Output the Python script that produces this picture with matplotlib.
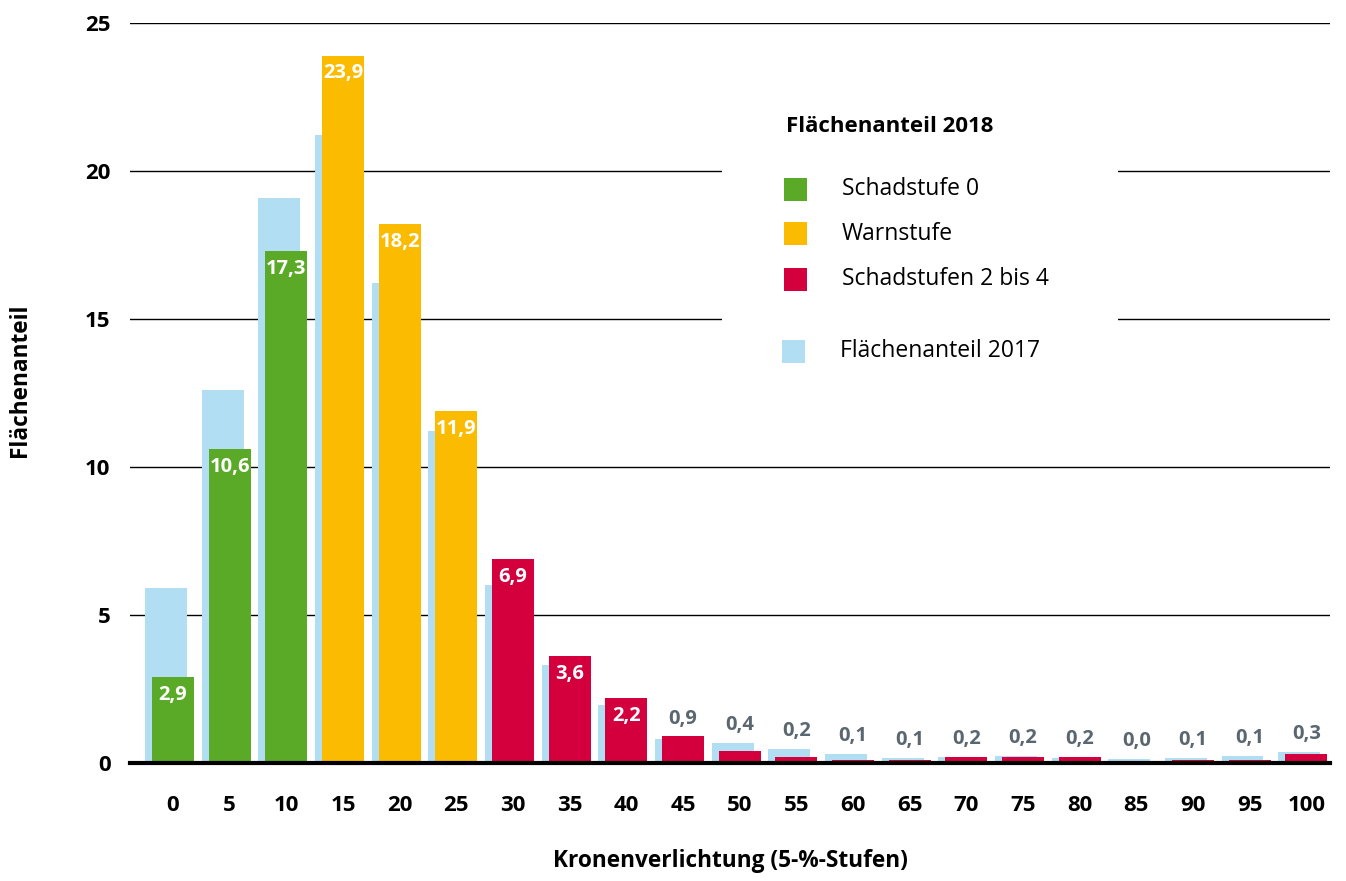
import matplotlib
matplotlib.use("Agg")
import matplotlib.pyplot as plt
from matplotlib.patches import Rectangle
import numpy as np

plt.rcParams['font.family'] = ['Open Sans', 'DejaVu Sans']

categories = ["0", "5", "10", "15", "20", "25", "30", "35", "40", "45", "50",
              "55", "60", "65", "70", "75", "80", "85", "90", "95", "100"]
values_2018 = [2.9, 10.6, 17.3, 23.9, 18.2, 11.9, 6.9, 3.6, 2.2, 0.9, 0.4,
               0.2, 0.1, 0.1, 0.2, 0.2, 0.2, 0.0, 0.1, 0.1, 0.3]
values_2017 = [5.9, 12.6, 19.1, 21.2, 16.2, 11.2, 6.0, 3.3, 1.95, 0.8, 0.68,
               0.47, 0.3, 0.18, 0.2, 0.24, 0.17, 0.13, 0.17, 0.23, 0.37]
# class of each 2018 bar: 0 = Schadstufe 0, 1 = Warnstufe, 2 = Schadstufen 2 bis 4
classes_2018 = [0, 0, 0, 1, 1, 1, 2, 2, 2, 2, 2, 2, 2, 2, 2, 2, 2, 2, 2, 2, 2]
legend_labels = ["Schadstufe 0", "Warnstufe", "Schadstufen 2 bis 4"]
legend_title = "Flächenanteil 2018"
legend_2017 = "Flächenanteil 2017"
y_ticks = [0, 5, 10, 15, 20, 25]

class_colors = ["#5aaa28", "#fbbb00", "#d3003d"]
color_2017 = "#b1def3"
small_label_color = "#5b6770"

W, H = 1346, 881
fig = plt.figure(figsize=(W / 100, H / 100), dpi=100)
ax = fig.add_axes([130 / W, (H - 763) / H, 1200 / W, 740 / H])

x = np.arange(len(categories))
width = 0.74
offset = 0.124

ax.bar(x - offset, values_2017, width=width, color=color_2017, zorder=2)
ax.bar(x, values_2018, width=width,
       color=[class_colors[c] for c in classes_2018], zorder=3)

for xi, v18, v17 in zip(x, values_2018, values_2017):
    txt = f"{v18:.1f}".replace(".", ",")
    if v18 >= 2:
        ax.text(xi, v18 - 0.6, txt, ha="center", va="center", color="white",
                fontsize=14.5, fontweight="bold", zorder=5)
    else:
        ax.text(xi, max(v18, v17) + 0.6, txt, ha="center", va="center",
                color=small_label_color, fontsize=14.5, fontweight="bold", zorder=5)

ax.set_xlim(-0.76, 20.42)
ax.set_ylim(0, 25)
ax.set_yticks(y_ticks)
ax.set_yticklabels([str(t) for t in y_ticks], fontsize=16, fontweight="bold")
ax.set_xticks(x)
ax.set_xticklabels(categories, fontsize=16, fontweight="bold")
ax.tick_params(axis="both", length=0)
ax.tick_params(axis="x", pad=23)
ax.tick_params(axis="y", pad=14)
for s in ["top", "right", "left"]:
    ax.spines[s].set_visible(False)
ax.spines["bottom"].set_linewidth(3)
ax.spines["bottom"].set_zorder(6)
ax.grid(axis="y", color="black", linewidth=1)
ax.set_axisbelow(True)
ax.set_xlabel("Kronenverlichtung (5-%-Stufen)", fontsize=16.3, fontweight="bold",
              labelpad=24)
fig.text(20 / W, 1 - 380 / H, "Flächenanteil", rotation=90, ha="center",
         va="center", fontsize=16.3, fontweight="bold")

# Legend block (manual, white background covering grid lines)
def fx(px):
    return px / W

def fy(py):
    return 1 - py / H

fig.patches.append(Rectangle((fx(722), fy(385)), fx(1118) - fx(722),
                             fy(95) - fy(385), transform=fig.transFigure,
                             facecolor="white", edgecolor="none", zorder=1))
fig.text(fx(786), fy(127), legend_title, ha="left", va="center",
         fontsize=16, fontweight="bold")
rows = [189, 234, 279]
for py, lab, col in zip(rows, legend_labels, class_colors):
    fig.patches.append(Rectangle((fx(784), fy(py + 11.5)), 23 / W, 23 / H,
                                 transform=fig.transFigure, facecolor=col,
                                 edgecolor="none", zorder=2))
    fig.text(fx(842), fy(py), lab, ha="left", va="center", fontsize=16.5)
fig.patches.append(Rectangle((fx(782), fy(351 + 11.5)), 23 / W, 23 / H,
                             transform=fig.transFigure, facecolor=color_2017,
                             edgecolor="none", zorder=2))
fig.text(fx(840), fy(351), legend_2017, ha="left", va="center", fontsize=16.5)

fig.savefig("out.png", dpi=100)
